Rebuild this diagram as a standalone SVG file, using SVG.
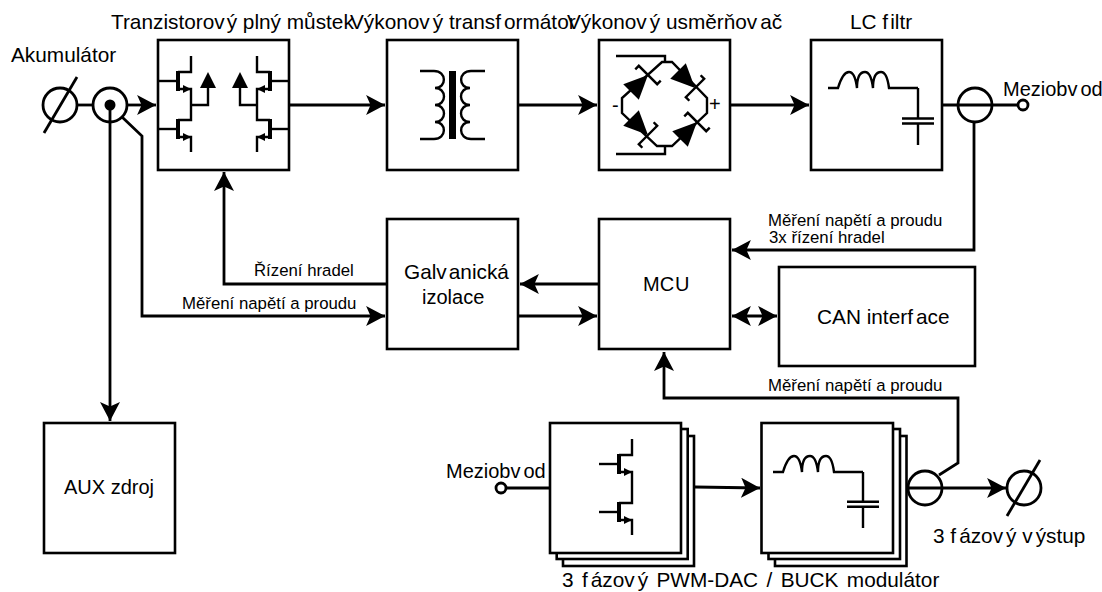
<svg xmlns="http://www.w3.org/2000/svg" width="1102" height="592" viewBox="0 0 1102 592">
<style>
text{font-family:"Liberation Sans",Arial,sans-serif;fill:#000}
.b{font-size:20.8px}
.m{font-size:20px}
.s{font-size:16.8px}
.box{fill:#fff;stroke:#000;stroke-width:2.6}
.w{fill:none;stroke:#000;stroke-width:2.4}
.t{fill:none;stroke:#000;stroke-width:2.4}
.h{fill:none;stroke:#000;stroke-width:4}
.c{fill:none;stroke:#000;stroke-width:2.8}
.f{fill:#000;stroke:none}
</style>
<defs>
<marker id="a" markerUnits="userSpaceOnUse" markerWidth="20" markerHeight="20" refX="17" refY="9" orient="auto-start-reverse" viewBox="0 0 18 18"><path d="M0 0L17 9L0 18L4 9Z" fill="#000"/></marker>
<g id="fet"><path class="t" d="M33 0V16H20M20 33H33V48"/><path class="h" d="M20 15V35"/><path class="t" d="M0 25H20"/><path class="f" d="M33 33L25 29V37Z"/></g>
<g id="diode"><path class="f" d="M0 0L-24 -11V11Z"/><path class="t" d="M-5 -13H0V13H5"/></g>
<path id="ind" class="w" d="M0 0H10C13 -10 17 -16 21 -16C26 -16 28 -8 29 0C29 -12 33 -16 37 -16C42 -16 44 -8 45 0C45 -12 49 -16 53 -16C58 -16 60 -8 61 0H90"/>
</defs>
<g id="connectors">
<path class="c" d="M77 105H93"/>
<path class="c" d="M127 105H156" marker-end="url(#a)"/>
<path class="c" d="M110 105V421" marker-end="url(#a)"/>
<path class="c" d="M122 117L142 136V316H385" marker-end="url(#a)"/>
<path class="c" d="M387 284H224V172" marker-end="url(#a)"/>
<path class="c" d="M289 105H385" marker-end="url(#a)"/>
<path class="c" d="M518 105H597" marker-end="url(#a)"/>
<path class="c" d="M731 105H809" marker-end="url(#a)"/>
<path class="c" d="M942 105H1018"/>
<path class="c" d="M974 122V250H732" marker-end="url(#a)"/>
<path class="c" d="M599 284H520" marker-end="url(#a)"/>
<path class="c" d="M518 316H597" marker-end="url(#a)"/>
<path class="c" d="M732 316H777" marker-start="url(#a)" marker-end="url(#a)"/>
<path class="c" d="M939 475L958 463V398H664V352" marker-end="url(#a)"/>
<path class="c" d="M506 488H550"/>
<path class="c" d="M695 487L760 488" marker-end="url(#a)"/>
<path class="c" d="M906 488H1006" marker-end="url(#a)"/>
</g>
<g id="akumulator">
<circle class="c" cx="60" cy="105" r="17"/><path class="c" d="M77 77L44 133"/>
<text class="b" x="11" y="62">Akumulátor</text>
</g>
<g id="senzor1">
<circle class="c" cx="110" cy="105" r="17"/><circle class="f" cx="110" cy="105" r="5.500"/>
</g>
<g id="mustek">
<rect class="box" x="158" y="40" width="131" height="130"/>
<use href="#fet" x="158" y="56"/><use href="#fet" x="158" y="104"/>
<use href="#fet" transform="translate(290,56) scale(-1,1)"/><use href="#fet" transform="translate(290,104) scale(-1,1)"/>
<path class="t" d="M191 105H208V84M257 105H240V84"/>
<path class="f" d="M208 72L216 88H200ZM240 72L248 88H232Z"/>
<text class="b" x="111" y="29">Tranzistorov<tspan dx="2">ý</tspan> plný můstek</text>
</g>
<g id="transformator">
<rect class="box" x="387" y="40" width="131" height="130"/>
<path class="t" d="M420 71H434C447 71 447 88 435 88C447 88 447 105 435 105C447 105 447 122 435 122C447 122 447 139 434 139H420"/>
<path class="t" d="M485 71H471C458 71 458 88 470 88C458 88 458 105 470 105C458 105 458 122 470 122C458 122 458 139 471 139H485"/>
<rect class="f" x="449" y="71" width="7" height="68"/>
<text class="b" x="350" y="29">Výkonov<tspan dx="3">ý</tspan> transf<tspan dx="3">o</tspan>rmátor</text>
</g>
<g id="usmernovac">
<rect class="box" x="599" y="40" width="131" height="130"/>
<path class="t" d="M616 56H665V62M616 154H665V146M662 62H672L707 98V113L672 146H657L622 113V98Z"/>
<use href="#diode" transform="translate(648,75) rotate(-45)"/>
<use href="#diode" transform="translate(695,88) rotate(45)"/>
<use href="#diode" transform="translate(697,122) rotate(-45)"/>
<use href="#diode" transform="translate(648,135) rotate(45)"/>
<text class="m" x="612" y="112">-</text><text class="m" x="709" y="111">+</text>
<text class="b" x="567" y="29">Výkonov<tspan dx="3">ý</tspan> usměrňov<tspan dx="3">a</tspan>č</text>
</g>
<g id="lc">
<rect class="box" x="811" y="40" width="131" height="130"/>
<use href="#ind" transform="translate(828,88)"/>
<path class="t" d="M918 88V118M902 118.500H934M902 123.500H934M918 124V145"/>
<text class="b" x="850" y="29">LC f<tspan dx="2">i</tspan>ltr</text>
</g>
<g id="senzor2">
<circle class="c" cx="975" cy="105" r="17"/>
</g>
<g id="meziobvod1">
<circle fill="#fff" stroke="#000" stroke-width="2.800" cx="1023" cy="105" r="5"/>
<text class="m" x="1003" y="96">Meziobv<tspan dx="3">o</tspan>d</text>
</g>
<g id="galvanicka">
<rect class="box" x="387" y="219" width="131" height="130"/>
<text class="b" x="404" y="279">Galv<tspan dx="2">a</tspan>nická</text>
<text class="m" x="422" y="304">izolace</text>
</g>
<g id="mcu">
<rect class="box" x="599" y="219" width="131" height="130"/>
<text class="m" x="643" y="291">MC<tspan dx="1">U</tspan></text>
</g>
<g id="can">
<rect class="box" x="779" y="267" width="196" height="99"/>
<text class="b" x="817" y="324">CAN interf<tspan dx="3">a</tspan>ce</text>
</g>
<g id="aux">
<rect class="box" x="44" y="423" width="131" height="130"/>
<text class="m" x="64" y="494">AUX zdroj</text>
</g>
<g id="pwm">
<rect class="box" x="563" y="436" width="131" height="130"/>
<rect class="box" x="556.700" y="429" width="131" height="130"/>
<rect class="box" x="550" y="423" width="131" height="130"/>
<use href="#fet" x="599" y="439"/><use href="#fet" x="599" y="487"/>
</g>
<g id="buck">
<rect class="box" x="775" y="436" width="131.500" height="130"/>
<rect class="box" x="768.500" y="429" width="131.500" height="130"/>
<rect class="box" x="761.500" y="423" width="131.500" height="130"/>
<use href="#ind" transform="translate(773,472)"/>
<path class="t" d="M863 472V501M847 501.700H879M847 506.700H879M863 507V528"/>
</g>
<g id="senzor3">
<circle class="c" cx="925" cy="488" r="17"/>
</g>
<g id="vystup">
<circle class="c" cx="1024" cy="488" r="17"/><path class="c" d="M1040 460L1007 516"/>
<text class="b" x="933" y="543">3 f<tspan dx="3">á</tspan>zov<tspan dx="3">ý</tspan> v<tspan dx="3">ý</tspan>stup</text>
</g>
<g id="meziobvod2">
<circle fill="#fff" stroke="#000" stroke-width="2.800" cx="501" cy="488" r="5"/>
<text class="m" x="446" y="478">Meziobv<tspan dx="3">o</tspan>d</text>
</g>
<g id="labels">
<text class="s" x="768" y="226">Měření napětí a proudu</text>
<text class="s" x="769" y="243">3x řízení hradel</text>
<text class="s" x="254" y="276">Řízení hradel</text>
<text class="s" x="182" y="309">Měření napětí a proudu</text>
<text class="s" x="768" y="391">Měření napětí a proudu</text>
<text class="b" x="562" y="587" word-spacing="2.600">3 f<tspan dx="3">á</tspan>zov<tspan dx="3">ý</tspan> PWM-DAC / BUCK modulátor</text>
</g>
</svg>
